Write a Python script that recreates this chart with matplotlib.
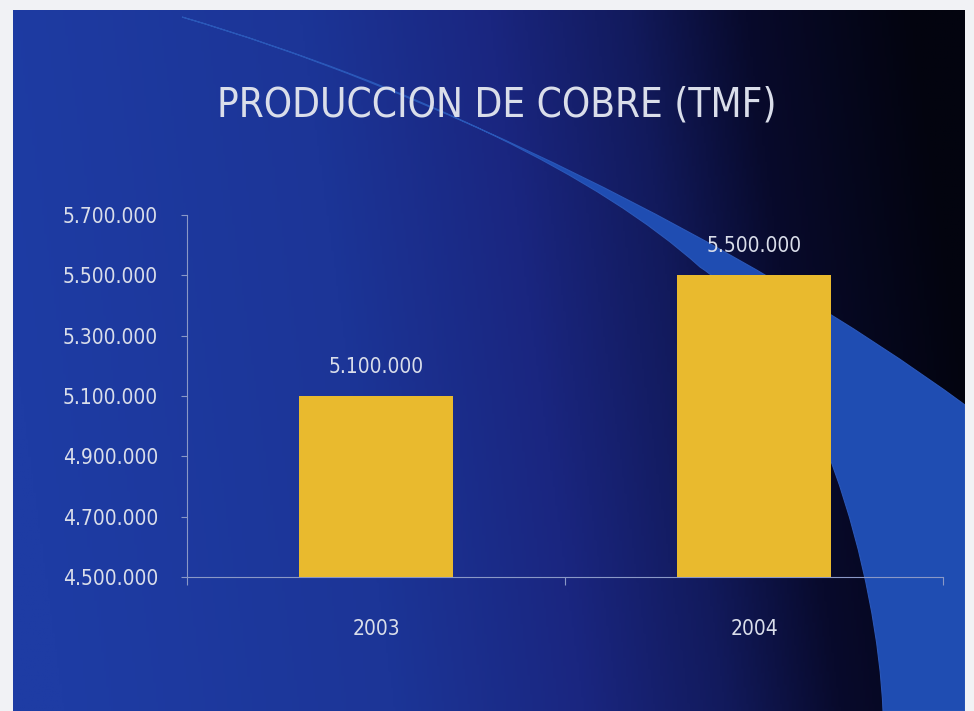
import matplotlib
matplotlib.use('Agg')
import matplotlib.pyplot as plt
import numpy as np
from matplotlib.path import Path
from matplotlib.patches import PathPatch
from matplotlib.colors import LinearSegmentedColormap

years = ['2003', '2004']
production = [5100000, 5500000]
value_labels = ['5.100.000', '5.500.000']
y_ticks = [4500000, 4700000, 4900000, 5100000, 5300000, 5500000, 5700000]

plt.rcParams['font.family'] = ['DejaVu Sans']
plt.rcParams['font.stretch'] = 'condensed'

W, H = 974, 711
fig = plt.figure(figsize=(W / 100, H / 100), dpi=100, facecolor='#f1f2f5')

# slide background (pixel coords, y down)
x0, x1, y0, y1 = 13, 965, 10, 711
bg = fig.add_axes([x0 / W, 0, (x1 - x0) / W, (y1 - y0) / H])
bg.set_xlim(x0, x1)
bg.set_ylim(y1, y0)
bg.axis('off')

xs = np.linspace(x0, x1, 400)
ys = np.linspace(y0, y1, 300)
X, Y = np.meshgrid(xs, ys)
t = (X - x0) / (x1 - x0) + 0.10 * (1 - (Y - y0) / (y1 - y0)) - 0.05
t = np.clip(t, 0, 1)
cmap = LinearSegmentedColormap.from_list('slide', [
    (0.0, '#1e3ca4'), (0.35, '#1c3597'), (0.55, '#1a2680'),
    (0.70, '#121a5c'), (0.82, '#080a2c'), (1.0, '#03040f')])
bg.imshow(t, cmap=cmap, extent=(x0, x1, y1, y0), aspect='auto', vmin=0, vmax=1)

verts = [(182, 17), (420, 86), (740, 240), (965, 405),
         (965, 711), (883, 711),
         (878, 580), (818, 345), (700, 267),
         (600, 177), (420, 88), (182, 17)]
codes = [Path.MOVETO, Path.CURVE4, Path.CURVE4, Path.CURVE4,
         Path.LINETO, Path.LINETO,
         Path.CURVE4, Path.CURVE4, Path.CURVE4,
         Path.CURVE4, Path.CURVE4, Path.CURVE4]
bg.add_patch(PathPatch(Path(verts, codes), facecolor='#1f4db2', edgecolor='#2a57b8', lw=0.8))

# chart
txt = '#dadeea'
axc = '#8a98c6'
ax = fig.add_axes([187 / W, (H - 577) / H, (943 - 187) / W, (577 - 215) / H])
ax.set_facecolor('none')
x = np.arange(len(years))
ax.bar(x, production, width=0.405, color='#e9ba2e', zorder=3)
ax.set_xlim(-0.5, len(years) - 0.5)
ax.set_ylim(y_ticks[0], y_ticks[-1])
ax.set_yticks(y_ticks)
ax.set_yticklabels([f'{v:,.0f}'.replace(',', '.') for v in y_ticks])
ax.set_xticks(x)
ax.set_xticklabels(years)
ax.set_xticks([-0.5, 0.5, 1.5], minor=True)

for s in ['top', 'right']:
    ax.spines[s].set_visible(False)
for s in ['left', 'bottom']:
    ax.spines[s].set_color(axc)
    ax.spines[s].set_linewidth(0.8)

ax.tick_params(axis='y', colors=axc, labelcolor=txt, length=4, width=0.8,
               pad=17, labelsize=15)
ax.tick_params(axis='x', which='major', length=0, labelcolor=txt, pad=30, labelsize=15)
ax.tick_params(axis='x', which='minor', colors=axc, length=6, width=0.8)

for xi, v, lab in zip(x, production, value_labels):
    ax.annotate(lab, (xi, v), xytext=(0, 14), textcoords='offset points',
                ha='center', va='bottom', color=txt, fontsize=15)

fig.text(497 / W, 1 - 106 / H, 'PRODUCCION DE COBRE (TMF)', ha='center', va='center',
         color=txt, fontsize=29)

fig.savefig('out.png', dpi=100, facecolor=fig.get_facecolor())
